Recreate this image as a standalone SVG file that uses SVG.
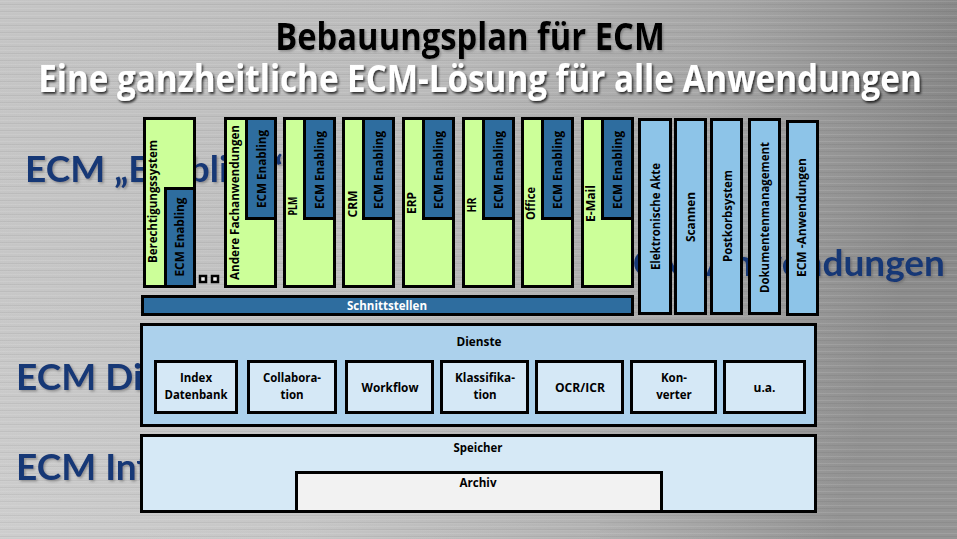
<svg xmlns="http://www.w3.org/2000/svg" width="957" height="539" viewBox="0 0 957 539">
<defs>
<linearGradient id="bg" x1="0" y1="0" x2="1" y2="0.15">
<stop offset="0" stop-color="#cdcdcd"/>
<stop offset="0.45" stop-color="#c2c2c2"/>
<stop offset="0.75" stop-color="#acacac"/>
<stop offset="1" stop-color="#8c8c8c"/>
</linearGradient>
<linearGradient id="vshade" x1="0" y1="0" x2="0" y2="1">
<stop offset="0" stop-color="#000" stop-opacity="0.04"/>
<stop offset="1" stop-color="#fff" stop-opacity="0.08"/>
</linearGradient>
<pattern id="brush" width="957" height="7" patternUnits="userSpaceOnUse">
<rect x="0" y="1" width="957" height="1" fill="#ffffff" opacity="0.10"/>
<rect x="0" y="4" width="957" height="1" fill="#000000" opacity="0.05"/>
<rect x="0" y="5" width="600" height="1" fill="#ffffff" opacity="0.06"/>
</pattern>
<filter id="shDark" x="-5%" y="-30%" width="110%" height="160%">
<feDropShadow dx="2" dy="2" stdDeviation="1.2" flood-color="#000" flood-opacity="0.75"/>
</filter>
<filter id="shLight" x="-5%" y="-30%" width="110%" height="160%">
<feDropShadow dx="1.5" dy="1.5" stdDeviation="1.2" flood-color="#555" flood-opacity="0.5"/>
</filter>
<style>
.box{stroke:#000;stroke-width:3}
.app{fill:#ccff99}
.en{fill:#2e6d9f}
.ecm{fill:#8dc4e8}
.svc{fill:#d5e8f6}
.lbl{font-family:"Open Sans","Liberation Sans",sans-serif;font-weight:700;font-size:12px;fill:#000}
.sm{font-size:11.5px}
.wl{fill:#fff}
.big{font-family:Lato,"Open Sans",sans-serif;font-weight:700;font-size:37px;fill:#163776}
.title{font-family:"Open Sans","Liberation Sans",sans-serif;font-weight:700;font-size:38px}
</style>
</defs>
<rect width="957" height="539" fill="url(#bg)"/>
<rect width="957" height="539" fill="url(#vshade)"/>
<rect width="957" height="539" fill="url(#brush)"/>

<g id="title">
<g transform="translate(470,50) scale(0.8,1)">
<text class="title" x="0" y="0" text-anchor="middle" fill="#000" textLength="487" lengthAdjust="spacingAndGlyphs" filter="url(#shLight)">Bebauungsplan für ECM</text>
</g>
<g transform="translate(480,92) scale(0.75,1)">
<text class="title" x="0" y="0" text-anchor="middle" fill="#fff" textLength="1178" lengthAdjust="spacingAndGlyphs" filter="url(#shDark)">Eine ganzheitliche ECM-Lösung für alle Anwendungen</text>
</g>
</g>

<g id="background-labels" filter="url(#shLight)">
<text class="big" x="25" y="182">ECM „Enabling“</text>
<text class="big" x="16" y="390">ECM Dienste</text>
<text class="big" x="16" y="480">ECM Infrastruktur</text>
<text class="big" x="945" y="276" text-anchor="end">ECM-Anwendungen</text>
</g>

<g id="col-berechtigung">
<rect class="box app" x="144.5" y="118.5" width="50" height="168"/>
<rect class="box en" x="165.5" y="188.5" width="29" height="98"/>
<text class="lbl" transform="translate(153,263) rotate(-90)" dy="0.35em" textLength="123" lengthAdjust="spacingAndGlyphs">Berechtigungssystem</text>
<text class="lbl" transform="translate(180,237) rotate(-90)" dy="0.35em" text-anchor="middle" textLength="79" lengthAdjust="spacingAndGlyphs">ECM Enabling</text>
</g>

<g id="dots">
<rect x="200" y="276" width="6" height="6" fill="#f0f0f0" stroke="#000" stroke-width="2.5"/>
<rect x="212" y="276" width="6" height="6" fill="#f0f0f0" stroke="#000" stroke-width="2.5"/>
</g>

<g id="col-andere">
<rect class="box app" x="225.5" y="118.5" width="50" height="168"/>
<rect class="box en" x="246.5" y="118.5" width="29" height="100"/>
<text class="lbl" transform="translate(235,280) rotate(-90)" dy="0.35em" textLength="155" lengthAdjust="spacingAndGlyphs">Andere Fachanwendungen</text>
<text class="lbl" transform="translate(262,169) rotate(-90)" dy="0.35em" text-anchor="middle" textLength="78" lengthAdjust="spacingAndGlyphs">ECM Enabling</text>
</g>

<g id="col-plm">
<rect class="box app" x="284.5" y="118.5" width="50" height="168"/>
<rect class="box en" x="304.5" y="118.5" width="30" height="100"/>
<text class="lbl" transform="translate(293,206) rotate(-90)" dy="0.35em" text-anchor="middle" textLength="19" lengthAdjust="spacingAndGlyphs">PLM</text>
<text class="lbl" transform="translate(320,170) rotate(-90)" dy="0.35em" text-anchor="middle" textLength="78" lengthAdjust="spacingAndGlyphs">ECM Enabling</text>
</g>

<g id="col-crm">
<rect class="box app" x="343.5" y="118.5" width="50" height="168"/>
<rect class="box en" x="363.5" y="118.5" width="30" height="100"/>
<text class="lbl" transform="translate(352.5,204) rotate(-90)" dy="0.35em" text-anchor="middle" textLength="27" lengthAdjust="spacingAndGlyphs">CRM</text>
<text class="lbl" transform="translate(379,170) rotate(-90)" dy="0.35em" text-anchor="middle" textLength="78" lengthAdjust="spacingAndGlyphs">ECM Enabling</text>
</g>

<g id="col-erp">
<rect class="box app" x="403.5" y="118.5" width="50" height="168"/>
<rect class="box en" x="423.5" y="118.5" width="30" height="100"/>
<text class="lbl" transform="translate(412,203) rotate(-90)" dy="0.35em" text-anchor="middle" textLength="22" lengthAdjust="spacingAndGlyphs">ERP</text>
<text class="lbl" transform="translate(439,170) rotate(-90)" dy="0.35em" text-anchor="middle" textLength="78" lengthAdjust="spacingAndGlyphs">ECM Enabling</text>
</g>

<g id="col-hr">
<rect class="box app" x="463.5" y="118.5" width="50" height="168"/>
<rect class="box en" x="483.5" y="118.5" width="30" height="100"/>
<text class="lbl" transform="translate(472,205) rotate(-90)" dy="0.35em" text-anchor="middle" textLength="15" lengthAdjust="spacingAndGlyphs">HR</text>
<text class="lbl" transform="translate(499,170) rotate(-90)" dy="0.35em" text-anchor="middle" textLength="78" lengthAdjust="spacingAndGlyphs">ECM Enabling</text>
</g>

<g id="col-office">
<rect class="box app" x="522.5" y="118.5" width="50" height="168"/>
<rect class="box en" x="542.5" y="118.5" width="30" height="100"/>
<text class="lbl" transform="translate(531,203.5) rotate(-90)" dy="0.35em" text-anchor="middle" textLength="33" lengthAdjust="spacingAndGlyphs">Office</text>
<text class="lbl" transform="translate(558,170) rotate(-90)" dy="0.35em" text-anchor="middle" textLength="78" lengthAdjust="spacingAndGlyphs">ECM Enabling</text>
</g>

<g id="col-email">
<rect class="box app" x="582.5" y="118.5" width="50" height="168"/>
<rect class="box en" x="602.5" y="118.5" width="30" height="100"/>
<text class="lbl" transform="translate(591,203.5) rotate(-90)" dy="0.35em" text-anchor="middle" textLength="37" lengthAdjust="spacingAndGlyphs">E-Mail</text>
<text class="lbl" transform="translate(618,170) rotate(-90)" dy="0.35em" text-anchor="middle" textLength="78" lengthAdjust="spacingAndGlyphs">ECM Enabling</text>
</g>

<g id="schnittstellen">
<rect class="box en" x="142.5" y="296.5" width="490" height="18"/>
<text class="lbl wl" x="387" y="309.5" text-anchor="middle" textLength="80" lengthAdjust="spacingAndGlyphs">Schnittstellen</text>
</g>

<g id="col-akte">
<rect class="box ecm" x="639.5" y="119.5" width="31" height="194"/>
<text class="lbl" transform="translate(656,216.5) rotate(-90)" dy="0.35em" text-anchor="middle" textLength="107" lengthAdjust="spacingAndGlyphs">Elektronische Akte</text>
</g>
<g id="col-scannen">
<rect class="box ecm" x="675.5" y="119.5" width="30" height="194"/>
<text class="lbl" transform="translate(691,217) rotate(-90)" dy="0.35em" text-anchor="middle" textLength="50" lengthAdjust="spacingAndGlyphs">Scannen</text>
</g>
<g id="col-postkorb">
<rect class="box ecm" x="711.5" y="119.5" width="30" height="194"/>
<text class="lbl" transform="translate(727.5,216) rotate(-90)" dy="0.35em" text-anchor="middle" textLength="92" lengthAdjust="spacingAndGlyphs">Postkorbsystem</text>
</g>
<g id="col-dms">
<rect class="box ecm" x="749.5" y="119.5" width="30" height="194"/>
<text class="lbl" transform="translate(765,217.5) rotate(-90)" dy="0.35em" text-anchor="middle" textLength="151" lengthAdjust="spacingAndGlyphs">Dokumentenmanagement</text>
</g>
<g id="col-ecm-anw">
<rect class="box ecm" x="787.5" y="121.5" width="30" height="193"/>
<text class="lbl" transform="translate(802,217.5) rotate(-90)" dy="0.35em" text-anchor="middle" textLength="119" lengthAdjust="spacingAndGlyphs">ECM -Anwendungen</text>
</g>

<g id="dienste">
<rect class="box" fill="#acd1ec" x="141.5" y="324.5" width="674" height="101"/>
<text class="lbl" x="479" y="346" text-anchor="middle" textLength="45" lengthAdjust="spacingAndGlyphs">Dienste</text>
</g>
<g id="svc-index">
<rect class="box svc" x="155.5" y="361.5" width="81" height="51"/>
<text class="lbl sm" x="196" y="382" text-anchor="middle">Index</text>
<text class="lbl sm" x="196" y="399" text-anchor="middle" textLength="63" lengthAdjust="spacingAndGlyphs">Datenbank</text>
</g>
<g id="svc-collab">
<rect class="box svc" x="248.5" y="361.5" width="87" height="51"/>
<text class="lbl sm" x="292" y="382" text-anchor="middle" textLength="58" lengthAdjust="spacingAndGlyphs">Collabora-</text>
<text class="lbl sm" x="292" y="399" text-anchor="middle">tion</text>
</g>
<g id="svc-workflow">
<rect class="box svc" x="346.5" y="361.5" width="86" height="51"/>
<text class="lbl" x="390" y="392" text-anchor="middle" textLength="57" lengthAdjust="spacingAndGlyphs">Workflow</text>
</g>
<g id="svc-klass">
<rect class="box svc" x="441.5" y="361.5" width="86" height="51"/>
<text class="lbl sm" x="485" y="382" text-anchor="middle" textLength="60" lengthAdjust="spacingAndGlyphs">Klassifika-</text>
<text class="lbl sm" x="485" y="399" text-anchor="middle">tion</text>
</g>
<g id="svc-ocr">
<rect class="box svc" x="536.5" y="361.5" width="86" height="51"/>
<text class="lbl" x="580" y="392" text-anchor="middle" textLength="50" lengthAdjust="spacingAndGlyphs">OCR/ICR</text>
</g>
<g id="svc-konverter">
<rect class="box svc" x="631.5" y="361.5" width="84" height="51"/>
<text class="lbl sm" x="674" y="382" text-anchor="middle">Kon-</text>
<text class="lbl sm" x="674" y="399" text-anchor="middle">verter</text>
</g>
<g id="svc-ua">
<rect class="box svc" x="724.5" y="361.5" width="80" height="51"/>
<text class="lbl" x="764.5" y="392" text-anchor="middle">u.a.</text>
</g>

<g id="speicher">
<rect class="box" fill="#d6e9f6" x="141.5" y="435.5" width="674" height="76"/>
<text class="lbl" x="478" y="452" text-anchor="middle" textLength="49" lengthAdjust="spacingAndGlyphs">Speicher</text>
</g>
<g id="archiv">
<rect class="box" fill="#f2f2f2" x="296.5" y="472.5" width="365" height="39"/>
<text class="lbl" x="478" y="487" text-anchor="middle" textLength="37" lengthAdjust="spacingAndGlyphs">Archiv</text>
</g>
<rect x="140" y="510" width="677" height="3" fill="#000"/>
<g id="connectors"/>
</svg>
